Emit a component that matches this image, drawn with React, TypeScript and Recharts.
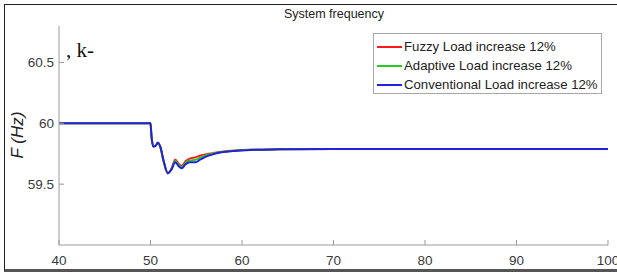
import { LineChart, Line, XAxis, YAxis, Legend } from "recharts";

// time (s) and frequency (Hz)
const time = [40, 50, 50.1, 50.3, 50.55, 50.8, 51.1, 51.4, 51.9, 52.3, 52.7, 53.05, 53.4, 53.85, 54.3, 54.9, 55.5, 56.0, 56.8, 57.6, 58.5, 59.5, 61, 64, 70, 80, 90, 100];
const fuzzy = [60, 60, 59.9, 59.81, 59.815, 59.84, 59.8, 59.7, 59.59, 59.63, 59.70, 59.67, 59.65, 59.69, 59.71, 59.72, 59.735, 59.745, 59.755, 59.765, 59.772, 59.777, 59.782, 59.786, 59.79, 59.79, 59.79, 59.79];
const adaptive = [60, 60, 59.9, 59.81, 59.815, 59.84, 59.8, 59.7, 59.59, 59.625, 59.69, 59.66, 59.64, 59.675, 59.695, 59.70, 59.72, 59.735, 59.75, 59.762, 59.77, 59.776, 59.782, 59.786, 59.79, 59.79, 59.79, 59.79];
const conventional = [60, 60, 59.9, 59.81, 59.815, 59.84, 59.8, 59.7, 59.59, 59.62, 59.68, 59.65, 59.63, 59.665, 59.68, 59.68, 59.705, 59.725, 59.745, 59.76, 59.768, 59.775, 59.781, 59.786, 59.79, 59.79, 59.79, 59.79];

const xTicks = [40, 50, 60, 70, 80, 90, 100];
const yTicks = [59.5, 60, 60.5];

const series = [
  { key: "fuzzy", name: "Fuzzy Load increase 12%", color: "#ff1a1a" },
  { key: "adaptive", name: "Adaptive Load increase 12%", color: "#22cc22" },
  { key: "conventional", name: "Conventional Load increase 12%", color: "#2222dd" },
];

const rows = time.map((t, i) => ({
  t,
  fuzzy: fuzzy[i],
  adaptive: adaptive[i],
  conventional: conventional[i],
}));

const font = "'Liberation Sans', Arial, sans-serif";
const tickStyle = { fill: "#3a3a3a", fontSize: 13.5, fontFamily: font };
const axisColor = "#9a9a9a";

function LegendBox() {
  return (
    <div
      style={{
        width: 229,
        height: 61,
        border: "1px solid #a8a8a8",
        background: "#fff",
        fontFamily: font,
        fontSize: 13.2,
        color: "#222",
        boxSizing: "border-box",
        paddingTop: 3,
      }}
    >
      {series.map((s) => (
        <div key={s.key} style={{ display: "flex", alignItems: "center", height: 19 }}>
          <div style={{ width: 25, height: 2, background: s.color, marginLeft: 3, marginRight: 2 }} />
          <span style={{ whiteSpace: "nowrap" }}>{s.name}</span>
        </div>
      ))}
    </div>
  );
}

export default function App() {
  return (
    <div style={{ position: "absolute", left: 0, top: 0, width: 617, height: 275, background: "#fff", overflow: "hidden" }}>
      <LineChart width={617} height={275} data={rows} margin={{ top: 26, right: 9, left: 14, bottom: 10 }}>
        <XAxis
          dataKey="t"
          type="number"
          domain={[40, 100]}
          ticks={xTicks}
          height={20}
          stroke={axisColor}
          tickSize={-5}
          tickMargin={15}
          tick={tickStyle}
          interval={0}
        />
        <XAxis
          xAxisId="top"
          dataKey="t"
          type="number"
          orientation="top"
          domain={[40, 100]}
          ticks={xTicks}
          height={0}
          stroke="#c4c4c4"
          tickSize={-5}
          tickFormatter={() => ""}
        />
        <YAxis
          type="number"
          domain={[59, 60.8]}
          ticks={yTicks}
          width={45}
          stroke={axisColor}
          tickSize={-5}
          tickMargin={10}
          tick={tickStyle}
          interval={0}
          allowDataOverflow
        />
        <YAxis
          yAxisId="right"
          type="number"
          orientation="right"
          domain={[59, 60.8]}
          ticks={yTicks}
          width={0}
          stroke="#c4c4c4"
          tickSize={-5}
          tickFormatter={() => ""}
        />
        <Legend
          layout="vertical"
          align="center"
          verticalAlign="middle"
          wrapperStyle={{ top: 33, left: 373, width: 229 }}
          content={() => <LegendBox />}
        />
        {series.map((s) => (
          <Line
            key={s.key}
            type="monotone"
            dataKey={s.key}
            name={s.name}
            stroke={s.color}
            strokeWidth={2}
            dot={false}
            isAnimationActive={false}
          />
        ))}
      </LineChart>
      <div
        style={{
          position: "absolute",
          left: 0,
          width: 668,
          top: 7,
          textAlign: "center",
          fontFamily: font,
          fontSize: 12.5,
          color: "#222",
        }}
      >
        System frequency
      </div>
      <div
        style={{
          position: "absolute",
          left: 18,
          top: 135,
          transform: "translate(-50%, -50%) rotate(-90deg)",
          fontFamily: font,
          fontStyle: "italic",
          fontSize: 17,
          color: "#222",
          whiteSpace: "nowrap",
        }}
      >
        F (Hz)
      </div>
      <div
        style={{
          position: "absolute",
          left: 66,
          top: 38,
          fontFamily: "'Liberation Serif', 'DejaVu Serif', serif",
          fontSize: 21,
          color: "#111",
        }}
      >
        , k-
      </div>
      <div
        style={{
          position: "absolute",
          left: 4,
          top: 4,
          width: 620,
          height: 268,
          borderTop: "1px solid #222",
          borderLeft: "1px solid #222",
          borderBottom: "3px solid #555",
          boxSizing: "border-box",
          pointerEvents: "none",
        }}
      />
    </div>
  );
}
